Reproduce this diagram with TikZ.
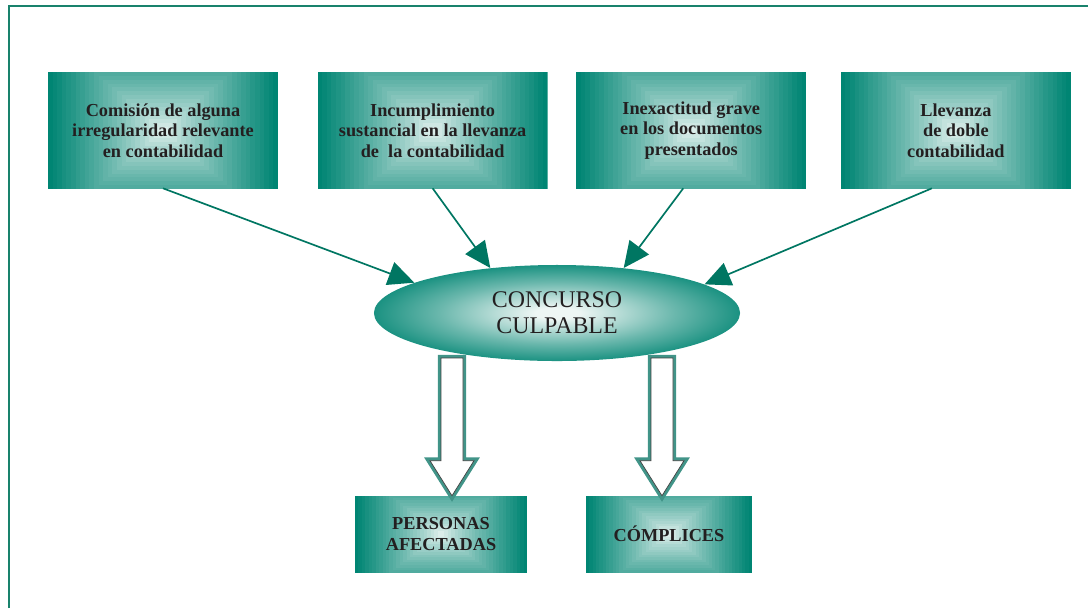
\documentclass[tikz,border=0pt]{standalone}
\usepackage{fontspec}
\setmainfont{Liberation Serif}
\usepackage{xcolor}
\usepackage{tikz}
\usetikzlibrary{shapes.geometric, arrows.meta, positioning, calc}

\definecolor{tealD}{RGB}{0,133,115}
\definecolor{tealDD}{RGB}{0,108,92}
\definecolor{tealL}{RGB}{238,246,244}
\colorlet{tealM}{tealD!55!tealL}
\definecolor{lineC}{RGB}{0,118,98}
\definecolor{frameC}{RGB}{25,130,108}
\definecolor{hollowC}{RGB}{65,148,136}
\definecolor{inkC}{RGB}{35,31,32}

\pgfdeclareradialshading{ovalglow}{\pgfpoint{0bp}{0bp}}{color(0bp)=(tealL); color(3bp)=(tealL); color(16bp)=(tealM); color(28bp)=(tealD); color(44bp)=(tealD); color(50bp)=(tealDD)}

\newcommand{\blockarrow}[2]{%
	\draw[hollow] let \p1=(#1), \p2=(#2) in
		(\x1-0.275cm,\y1) -- (\x1+0.275cm,\y1) -- (\x1+0.275cm,\y2+0.875cm)
		-- (\x1+0.55cm,\y2+0.875cm) -- (\x1,\y2) -- (\x1-0.55cm,\y2+0.875cm)
		-- (\x1-0.275cm,\y2+0.875cm) -- cycle;}

\begin{document}
\begin{tikzpicture}[x=0.025cm, y=-0.025cm,
			glow/.style={rectangle, inner sep=0pt, align=center, text=inkC,
					path picture={
							\coordinate (gc) at (path picture bounding box.center);
							\coordinate (gsw) at (path picture bounding box.south west);
							\foreach \k in {0,...,24}{
									\pgfmathsetmacro{\f}{1-\k/25}
									\pgfmathtruncatemacro{\m}{round(100*\f^0.8)}
									\coordinate (gx) at ($(gc)!\f!(gsw)$);
									\coordinate (gy) at ($(gc)!{1.7*\f}!(gsw)$);
									\coordinate (hx) at ($(gc)!{-\f}!(gsw)$);
									\coordinate (hy) at ($(gc)!{-1.7*\f}!(gsw)$);
									\fill[tealD!\m!tealL] (gx |- gy) rectangle (hx |- hy);
								}}},
			cause/.style={glow, minimum width=5.75cm, minimum height=2.875cm,
					font=\bfseries\fontsize{13}{14.5}\selectfont},
			effect/.style={glow, minimum height=1.9cm,
					font=\bfseries\fontsize{13}{15}\selectfont},
			oval/.style={ellipse, shade, shading=ovalglow, minimum width=9.15cm, minimum height=2.4cm,
					inner sep=0pt, align=center, text=inkC, font=\fontsize{17}{18.5}\selectfont},
			line/.style={draw=lineC, line width=1.2pt, -{Triangle[length=0.65cm, width=0.6cm]}},
			hollow/.style={draw=black!75, line width=0.5pt, fill=white, line join=miter,
					preaction={draw=hollowC, line width=4.6pt, line join=miter}},
			frame/.style={draw=frameC, line width=1.8pt}]

		\useasboundingbox (0,0) rectangle (1088,608);
		\draw[frame] (9,608) -- (9,6) -- (1088,6);

		% Define nodes
		\node[cause] (irreg) at (163,130.5) {Comisión de alguna\\irregularidad relevante\\en contabilidad};
		\node[cause, right=0.975cm of irreg] (incump) {Incumplimiento\\sustancial en la llevanza\\de\ \ la contabilidad};
		\node[cause, right=0.7cm of incump] (inexact) {Inexactitud grave\\en los documentos\\presentados};
		\node[cause, right=0.85cm of inexact] (doble) {Llevanza\\de doble\\contabilidad};
		\node[oval] (concurso) at (557,313) {CONCURSO\\CULPABLE};
		\node[effect, minimum width=4.3cm] (afect) at (441,534) {PERSONAS\\AFECTADAS};
		\node[effect, minimum width=4.15cm] (compl) at (669,534) {CÓMPLICES};

		% Draw connections
		\path[line] (irreg.south) -- (concurso.168);
		\path[line] (incump.south) -- (concurso.146);
		\path[line] ([xshift=-0.2cm]inexact.south) -- (concurso.34);
		\path[line] ([xshift=-0.6cm]doble.south) -- (concurso.11);

		\coordinate (pdrop) at (452,358);
		\coordinate (cdrop) at (662,358);
		\blockarrow{pdrop}{afect.north}
		\blockarrow{cdrop}{compl.north}

	\end{tikzpicture}
\end{document}
